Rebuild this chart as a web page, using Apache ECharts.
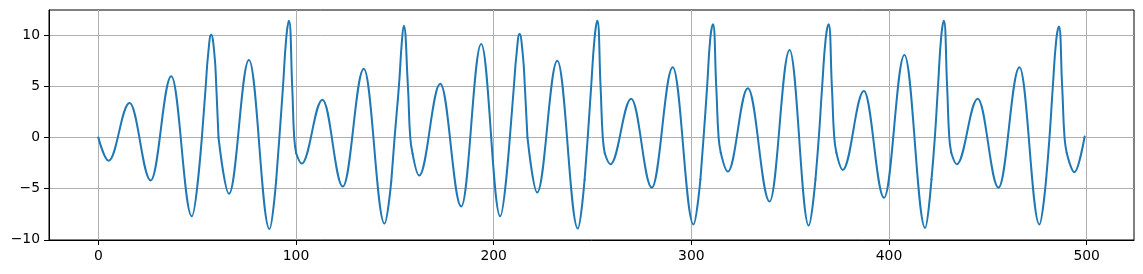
<!DOCTYPE html>
<html>
<head>
<meta charset="utf-8">
<script src="https://cdn.jsdelivr.net/npm/echarts@6/dist/echarts.min.js"></script>
<style>
html,body{margin:0;padding:0;background:#fff;}
#chart{width:1143px;height:274px;}
</style>
</head>
<body>
<div id="chart"></div>
<script>
// Values: x positions and y values of the curve's turning points,
// plus extra points read along the flanks of the sharp peaks.
const sampleX = [0,5.2,15.8,26.5,36.9,47.3,52.4,54.3,55.6,57.1,58.7,59.7,60.8,66.1,76.2,86.6,90,91.6,93.4,95.1,96.4,98.1,99.1,100.1,102.9,113.4,123.7,134.3,144.8,148.2,149.9,152.1,153.5,154.5,156.6,157.8,159,162.3,173,183.6,193.7,203.3,208.2,210.2,211.6,213.1,214.7,215.8,217.1,222,232.2,242.6,246,247.6,249.3,251.1,252.4,254.1,255.2,256.2,259.1,269.6,280,290.6,301.1,304.6,306.2,308,309.6,310.9,312.6,313.8,314.9,318.5,328.6,339.6,349.7,359.4,362.8,364.5,366.2,368,369.4,371.1,372.3,373.4,376.6,387.3,397.5,407.8,418.3,421.5,423.2,424.8,426.4,427.7,429.4,430.5,431.5,434.3,444.9,455.4,466,476.1,479.5,481.2,482.9,484.6,485.9,487.6,488.8,489.9,493.8,499];
const sampleY = [0,-2.27,3.36,-4.2,5.98,-7.7,0,4.9,8.2,10.03,8.2,4.9,0,-5.5,7.57,-8.95,-4.15,0,4.9,9.77,11.4,4.9,0,-1.55,-2.55,3.69,-4.8,6.7,-8.42,-4.3,0,5.08,9.2,10.9,5.08,0,-1.6,-3.72,5.24,-6.74,9.13,-7.7,0,4.9,8.2,10.1,8.2,4.9,0,-5.38,7.5,-8.9,-4.15,0,4.9,9.8,11.4,4.9,0,-1.55,-2.62,3.78,-4.9,6.86,-8.5,-4.1,0,5,9.7,11.07,5,0,-1.5,-3.34,4.8,-6.25,8.54,-8.6,-4.1,0,5,9.7,11.07,5,0,-1.5,-3.17,4.53,-5.9,8.06,-8.84,-4.1,0,5,9.8,11.39,5,0,-1.5,-2.62,3.78,-4.9,6.86,-8.5,-4.1,0,5,9.5,10.84,5,0,-1.5,-3.4,0.1];
// x positions where each sharp-peak flank starts and ends
const sharpStartX = [52.4,90,148.2,208.2,246,304.6,362.8,421.5,479.5];
const sharpEndX = [60.8,100.1,159,217.1,256.2,314.9,373.4,431.5,489.9];
const xTicks = [0,100,200,300,400,500];
const yTicks = [-10,-5,0,5,10];

// split the curve into rounded wave parts and sharp-peak parts
const parts = [];
let cur = {sharp: false, pts: []};
sampleX.forEach((x, i) => {
  const p = [x, sampleY[i]];
  cur.pts.push(p);
  if (sharpStartX.includes(x)) { parts.push(cur); cur = {sharp: true, pts: [p]}; }
  else if (sharpEndX.includes(x)) { parts.push(cur); cur = {sharp: false, pts: [p]}; }
});
parts.push(cur);

const fmt = v => String(v).replace('-', '\u2212');
const font = {fontFamily: 'DejaVu Sans', fontSize: 13.9, color: '#000'};

const series = parts.map(part => ({
  type: 'line', data: part.pts, showSymbol: false,
  smooth: part.sharp ? 0.5 : 0.38,
  smoothMonotone: part.sharp ? undefined : 'x',
  lineStyle: {color: '#1f77b4', width: 2, cap: 'round', join: 'round'},
  z: 3, silent: true
}));

const chart = echarts.init(document.getElementById('chart'), null, {renderer: 'canvas'});
chart.setOption({
  animation: false,
  backgroundColor: '#fff',
  grid: {left: 49, right: 9, top: 10, bottom: 34, show: true, borderColor: '#000', borderWidth: 1, backgroundColor: 'transparent'},
  xAxis: {
    type: 'value', min: -24.95, max: 523.95,
    axisLine: {show: true, onZero: false, lineStyle: {color: '#000', width: 1}},
    axisTick: {show: true, length: 5, customValues: xTicks, lineStyle: {color: '#000', width: 1}},
    axisLabel: Object.assign({show: true, margin: 9, customValues: xTicks, formatter: fmt}, font),
    splitLine: {show: true, lineStyle: {color: '#b0b0b0', width: 1}}
  },
  yAxis: {
    type: 'value', min: -10.02, max: 12.45,
    axisLine: {show: true, onZero: false, lineStyle: {color: '#000', width: 1}},
    axisTick: {show: true, length: 5, customValues: yTicks, lineStyle: {color: '#000', width: 1}},
    axisLabel: Object.assign({show: true, margin: 9, customValues: yTicks, formatter: fmt}, font),
    splitLine: {show: true, lineStyle: {color: '#b0b0b0', width: 1}}
  },
  series: series
});
</script>
</body>
</html>
